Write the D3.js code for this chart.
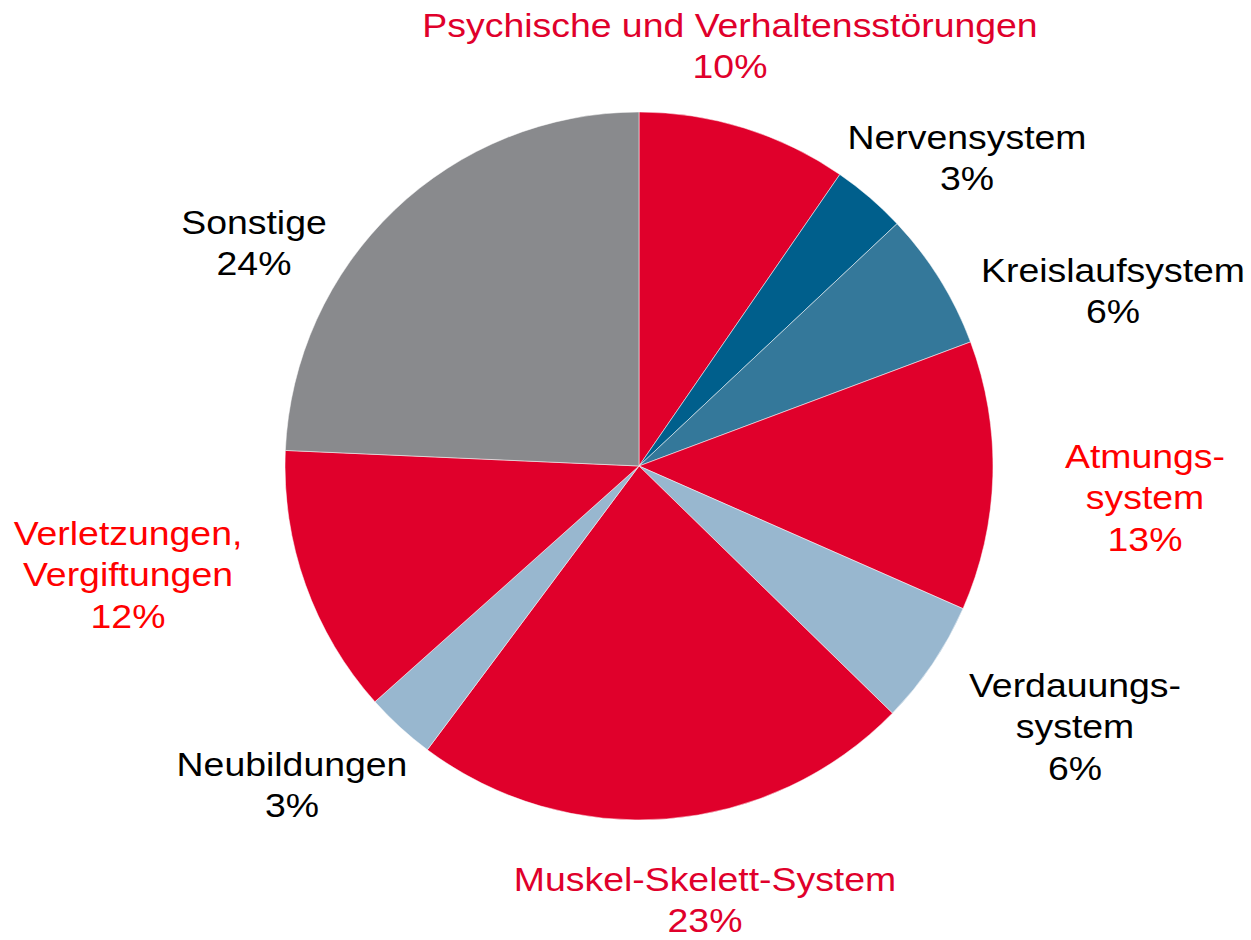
<!DOCTYPE html>
<html>
<head>
<meta charset="utf-8">
<script src="https://cdn.jsdelivr.net/npm/d3@7"></script>
<style>
  body { margin: 0; background: #fff; }
  text { font-family: "Liberation Sans", Arial, sans-serif; }
</style>
</head>
<body>
<div id="chart"></div>
<script>
// data (shares in %, clockwise from 12 o'clock)
const categories = ["Psychische und Verhaltensstörungen", "Nervensystem", "Kreislaufsystem",
    "Atmungssystem", "Verdauungssystem", "Muskel-Skelett-System", "Neubildungen",
    "Verletzungen, Vergiftungen", "Sonstige"];
const shares = [9.6, 3.4, 6.3, 12.3, 5.7, 22.9, 3.2, 12.3, 24.3];
const percentLabels = ["10%", "3%", "6%", "13%", "6%", "23%", "3%", "12%", "24%"];
const labelLines = [
    ["Psychische und Verhaltensstörungen"],
    ["Nervensystem"],
    ["Kreislaufsystem"],
    ["Atmungs-", "system"],
    ["Verdauungs-", "system"],
    ["Muskel-Skelett-System"],
    ["Neubildungen"],
    ["Verletzungen,", "Vergiftungen"],
    ["Sonstige"]
];

// styling / layout
const width = 1251, height = 940;
const cx = 639, cy = 466, radius = 354;
const sliceColors = ["#e0002b", "#005f8c", "#34789a", "#e0002b", "#98b7cf",
                     "#e0002b", "#98b7cf", "#e0002b", "#898a8d"];
const labelColors = ["#e0002b", "#000", "#000", "#ff0000", "#000",
                     "#e0002b", "#000", "#ff0000", "#000"];
// label anchor: centre x, first baseline y
const labelPos = [[730, 37], [967, 149], [1113, 282], [1145, 468], [1075, 697],
                  [705, 891], [292, 776], [128, 545], [254, 234]];
const lineH = 41.5;

let svg = d3.select("#chart")
    .append("svg")
    .attr("width", width)
    .attr("height", height);

let pie = d3.pie()
    .value(d => d)
    .sort(null)
    .startAngle(0)
    .endAngle(2 * Math.PI);

let arcGenerator = d3.arc()
    .innerRadius(0)
    .outerRadius(radius);

let pieGrp = svg.append("g")
    .attr("transform", `translate(${cx}, ${cy})`);

pieGrp.selectAll("path")
    .data(pie(shares))
    .enter()
    .append("path")
    .attr("d", arcGenerator)
    .attr("fill", (d, i) => sliceColors[i])
    .attr("stroke", "#fff")
    .attr("stroke-width", 0.5);

let labels = svg.selectAll(".label")
    .data(categories)
    .enter()
    .append("text")
    .attr("class", "label")
    .attr("transform", (d, i) => `translate(${labelPos[i][0]}, ${labelPos[i][1]}) scale(1.1, 1)`)
    .style("text-anchor", "middle")
    .style("font-size", "34px")
    .attr("fill", (d, i) => labelColors[i]);

labels.each(function(d, i) {
    const lines = labelLines[i].concat([percentLabels[i]]);
    d3.select(this).selectAll("tspan")
        .data(lines)
        .enter()
        .append("tspan")
        .attr("x", 0)
        .attr("y", (t, j) => j * lineH)
        .text(t => t);
});
</script>
</body>
</html>
